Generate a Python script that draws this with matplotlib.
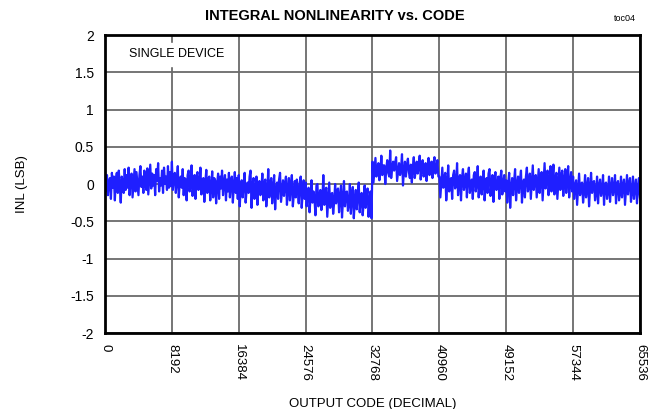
import matplotlib.pyplot as plt
import numpy as np

plt.rcParams['font.family'] = ['Liberation Sans', 'DejaVu Sans']

# INL readings (LSB); one list per 8192-code span (0..65535)
inl_seg0 = [0.05, -0.10, 0.12, -0.15, 0.02, 0.08, -0.20, 0.15, -0.05, 0.10, -0.22, 0.06, 0.15, -0.12, 0.18, -0.02, -0.25,
            0.10, 0.04, -0.12, 0.20, -0.08, 0.12, -0.05, 0.22, -0.15, 0.08, 0.14, -0.18, 0.02, 0.20, -0.10, 0.16, 0.00,
            -0.15, 0.12, 0.24, -0.04, 0.10, -0.12, 0.18, 0.02, -0.08, 0.21, -0.14, 0.06, 0.26, -0.06, 0.14, -0.02, 0.12,
            -0.15, 0.20, 0.04, 0.28, -0.10, 0.08, -0.02, 0.18, -0.12, 0.22, 0.00, 0.10, -0.08, 0.24, -0.05, 0.16, -0.03]
inl_seg1 = [0.30, -0.08, 0.10, 0.15, -0.12, 0.05, 0.24, -0.18, 0.02, 0.10, -0.05, 0.20, -0.15, 0.08, 0.06, -0.22, 0.12,
            0.18, -0.10, 0.00, 0.25, -0.16, 0.04, 0.12, -0.20, 0.10, 0.16, -0.08, -0.02, 0.22, -0.14, 0.05, 0.08, -0.24,
            0.02, 0.19, -0.12, 0.06, 0.10, -0.22, -0.04, 0.17, -0.18, 0.08, 0.05, -0.26, 0.00, 0.14, -0.20, 0.10, -0.06,
            0.18, -0.15, 0.02, 0.12, -0.22, 0.06, -0.10, 0.15, -0.18, 0.04, 0.10, -0.25, -0.02, 0.16, -0.12, 0.08, -0.20]
inl_seg2 = [0.12, -0.30, -0.05, 0.05, -0.18, 0.00, 0.15, -0.25, -0.08, 0.02, -0.12, 0.10, 0.18, -0.32, -0.02, 0.08, -0.20,
            -0.10, 0.10, -0.28, 0.00, 0.04, -0.15, -0.06, 0.14, -0.22, 0.02, 0.06, -0.30, -0.12, 0.20, -0.18, 0.00, 0.08,
            -0.26, -0.04, 0.12, -0.34, -0.08, 0.02, -0.20, 0.06, 0.15, -0.24, -0.10, 0.05, -0.16, 0.00, 0.10, -0.28, -0.06,
            0.08, -0.22, -0.02, 0.12, -0.30, -0.14, 0.04, -0.18, 0.06, -0.08, -0.26, 0.02, 0.10, -0.32, -0.12, 0.05, -0.20]
inl_seg3 = [0.02, -0.30, -0.12, -0.05, -0.38, -0.18, 0.05, -0.25, -0.10, -0.20, -0.42, -0.02, 0.00, -0.30, -0.15, -0.08,
            -0.35, -0.22, 0.12, -0.28, -0.10, -0.05, -0.44, -0.20, 0.02, -0.32, -0.14, -0.12, -0.40, -0.25, 0.00, -0.26,
            -0.08, -0.06, -0.38, -0.18, -0.02, -0.45, -0.22, 0.04, -0.30, -0.12, -0.10, -0.36, -0.28, 0.00, -0.40, -0.16,
            -0.04, -0.46, -0.24, -0.08, -0.34, -0.14, 0.02, -0.38, -0.20, -0.12, -0.42, -0.26, -0.02, -0.32, -0.16, -0.06,
            -0.44, -0.22, -0.10, -0.46]
inl_seg4 = [0.30, 0.02, 0.18, 0.35, 0.10, 0.22, 0.28, 0.05, 0.15, 0.38, 0.12, 0.25, 0.25, 0.00, 0.20, 0.32, 0.15, 0.10,
            0.45, 0.08, 0.22, 0.30, 0.18, 0.28, 0.36, 0.04, 0.16, 0.28, 0.12, 0.20, 0.40, -0.02, 0.18, 0.30, 0.10, 0.25,
            0.34, 0.16, 0.08, 0.26, 0.02, 0.22, 0.36, 0.08, 0.18, 0.30, 0.14, 0.24, 0.38, 0.06, 0.20, 0.32, 0.10, 0.15,
            0.28, 0.04, 0.22, 0.35, 0.12, 0.18, 0.30, 0.08, 0.26, 0.36, 0.14, 0.20, 0.32, 0.10]
inl_seg5 = [0.10, -0.18, 0.02, 0.22, -0.05, 0.08, 0.15, -0.22, 0.00, 0.25, -0.10, 0.06, 0.08, -0.20, 0.12, 0.18, -0.06,
            -0.02, 0.28, -0.15, 0.05, 0.12, -0.22, 0.08, 0.20, -0.08, 0.02, 0.14, -0.18, 0.10, 0.22, -0.12, -0.04, 0.06,
            -0.20, 0.12, 0.16, -0.10, 0.00, 0.24, -0.18, 0.06, 0.10, -0.14, 0.04, 0.18, -0.22, -0.02, 0.08, -0.12, 0.14,
            0.20, -0.16, 0.02, 0.12, -0.24, 0.06, 0.16, -0.08, -0.04, 0.10, -0.20, 0.08, 0.18, -0.14, 0.00, 0.12, -0.10]
inl_seg6 = [0.05, -0.25, 0.00, 0.15, -0.32, -0.05, 0.08, -0.15, 0.04, 0.20, -0.22, -0.02, 0.10, -0.12, 0.06, 0.18, -0.25,
            0.00, 0.06, -0.18, 0.10, 0.22, -0.10, -0.04, 0.14, -0.20, 0.02, 0.25, -0.08, 0.06, 0.12, -0.18, 0.00, 0.20,
            -0.12, 0.08, 0.16, -0.22, 0.04, 0.28, -0.06, 0.10, 0.18, -0.15, 0.02, 0.24, -0.10, 0.06, 0.26, -0.14, 0.08,
            0.15, -0.20, 0.00, 0.22, -0.08, 0.12, 0.18, -0.16, 0.04, 0.20, -0.12, 0.10, 0.24, -0.18, 0.02, 0.16, -0.10]
inl_seg7 = [0.10, -0.20, -0.02, 0.05, -0.28, -0.08, 0.14, -0.15, 0.00, 0.02, -0.25, -0.10, 0.12, -0.18, -0.04, 0.08, -0.30,
            -0.06, 0.15, -0.12, 0.02, 0.04, -0.22, -0.12, 0.10, -0.26, -0.02, 0.06, -0.16, -0.08, 0.12, -0.28, 0.00, 0.02,
            -0.20, -0.10, 0.10, -0.24, -0.04, 0.08, -0.15, -0.06, 0.12, -0.26, 0.00, 0.04, -0.22, -0.12, 0.10, -0.18, -0.02,
            0.06, -0.28, -0.08, 0.12, -0.14, 0.00, 0.08, -0.24, -0.10, 0.10, -0.20, -0.04, 0.06, -0.26, -0.06, 0.08, -0.18]

segments = [inl_seg0, inl_seg1, inl_seg2, inl_seg3, inl_seg4, inl_seg5, inl_seg6, inl_seg7]
span = 8192

codes = []
inl = []
for k, seg in enumerate(segments):
    last = (k == len(segments) - 1)
    end = (k + 1) * span - 1 if last else (k + 1) * span
    codes.extend(np.linspace(k * span, end, len(seg), endpoint=last))
    inl.extend(seg)

xticks = [0, 8192, 16384, 24576, 32768, 40960, 49152, 57344, 65536]
yticks = [-2, -1.5, -1, -0.5, 0, 0.5, 1, 1.5, 2]

fig = plt.figure(figsize=(6.58, 4.09), dpi=100)
ax = fig.add_axes([0.1596, 0.1858, 0.8130, 0.7286])

ax.plot(codes, inl, color='#1f1fff', lw=1.6)

ax.set_xlim(0, 65536)
ax.set_ylim(-2, 2)
ax.set_xticks(xticks)
ax.set_xticklabels([str(t) for t in xticks], rotation=-90, fontsize=9.5)
ax.set_yticks(yticks)
ax.set_yticklabels([f'{t:g}' for t in yticks], fontsize=10)
ax.tick_params(length=0, pad=8)
ax.grid(True, color='#6a6a6a', lw=1.3)
ax.set_axisbelow(True)
for s in ax.spines.values():
    s.set_linewidth(2)
    s.set_color('black')

ax.set_xlabel('OUTPUT CODE (DECIMAL)', fontsize=9.5, labelpad=12)
ax.set_ylabel('INL (LSB)', fontsize=9.5, labelpad=30)

ax.text(0.045, 0.955, 'SINGLE DEVICE', transform=ax.transAxes, fontsize=9,
        va='top', ha='left', backgroundcolor='white', zorder=5)

fig.text(0.509, 0.962, 'INTEGRAL NONLINEARITY vs. CODE', fontsize=10.5,
         fontweight='bold', ha='center', va='center')
fig.text(0.95, 0.955, 'toc04', fontsize=6.5, ha='center', va='center')

fig.savefig('out.png', dpi=100)
